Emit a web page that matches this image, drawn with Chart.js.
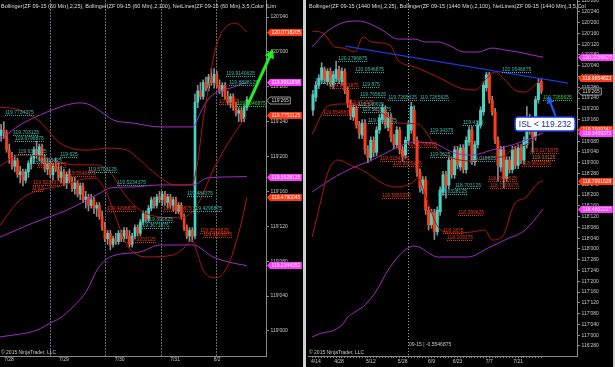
<!DOCTYPE html>
<html>
<head>
<meta charset="utf-8">
<script src="https://cdn.jsdelivr.net/npm/chart.js@4.4.0/dist/chart.umd.min.js"></script>
<style>
  html, body { margin: 0; padding: 0; background: #d0d0d0; }
  body { width: 615px; height: 367px; position: relative; overflow: hidden; }
  canvas { position: absolute; top: 0; background: #000; }
  #left { left: 0; }
  #right { left: 306px; }
</style>
</head>
<body>
<canvas id="left" width="303" height="367"></canvas>
<canvas id="right" width="307" height="367"></canvas>
<script>
// ---- 60 min bars, ZF 09-15  [open, high, low, close]
const hourlyBars = [
  [119.70,119.74,119.68,119.72],[119.72,119.75,119.69,119.71],[119.71,119.72,119.64,119.65],[119.65,119.67,119.60,119.62],
  [119.62,119.64,119.58,119.59],[119.59,119.63,119.57,119.61],[119.61,119.62,119.55,119.56],[119.56,119.59,119.53,119.57],
  [119.57,119.58,119.52,119.54],[119.54,119.58,119.53,119.57],[119.57,119.61,119.55,119.60],[119.60,119.63,119.58,119.62],
  [119.62,119.66,119.60,119.65],[119.65,119.68,119.62,119.63],[119.63,119.67,119.61,119.66],[119.66,119.67,119.60,119.61],
  [119.61,119.63,119.57,119.58],[119.58,119.62,119.56,119.60],[119.60,119.61,119.55,119.56],[119.56,119.60,119.54,119.59],
  [119.59,119.62,119.57,119.58],[119.58,119.60,119.54,119.55],[119.55,119.59,119.53,119.57],[119.57,119.58,119.52,119.53],
  [119.53,119.57,119.51,119.56],[119.56,119.58,119.53,119.54],[119.54,119.55,119.50,119.51],[119.51,119.55,119.49,119.53],
  [119.53,119.54,119.48,119.49],[119.49,119.53,119.47,119.52],[119.52,119.53,119.46,119.47],[119.47,119.50,119.44,119.48],
  [119.48,119.49,119.43,119.45],[119.45,119.49,119.44,119.47],[119.47,119.48,119.42,119.44],[119.44,119.46,119.41,119.45],
  [119.45,119.46,119.40,119.41],[119.41,119.43,119.36,119.37],[119.37,119.39,119.32,119.33],[119.33,119.36,119.31,119.35],
  [119.35,119.36,119.29,119.31],[119.31,119.34,119.30,119.33],[119.33,119.35,119.31,119.32],[119.32,119.36,119.31,119.35],
  [119.35,119.36,119.32,119.33],[119.33,119.37,119.32,119.36],[119.36,119.37,119.33,119.34],[119.34,119.36,119.30,119.31],
  [119.31,119.35,119.30,119.34],[119.34,119.38,119.33,119.37],[119.37,119.38,119.34,119.35],[119.35,119.40,119.34,119.39],
  [119.39,119.43,119.38,119.42],[119.42,119.43,119.39,119.40],[119.40,119.45,119.39,119.44],[119.44,119.48,119.43,119.47],
  [119.47,119.48,119.44,119.45],[119.45,119.49,119.44,119.48],[119.48,119.50,119.46,119.47],[119.47,119.50,119.45,119.49],
  [119.49,119.50,119.45,119.46],[119.46,119.49,119.44,119.48],[119.48,119.49,119.44,119.45],[119.45,119.48,119.43,119.47],
  [119.47,119.48,119.42,119.43],[119.43,119.46,119.42,119.45],[119.45,119.46,119.40,119.41],[119.41,119.42,119.36,119.37],
  [119.37,119.38,119.33,119.34],[119.34,119.37,119.32,119.36],[119.36,119.37,119.32,119.34],[119.34,119.85,119.33,119.82],
  [119.82,119.88,119.80,119.86],[119.86,119.89,119.83,119.84],[119.84,119.90,119.83,119.89],[119.89,119.91,119.86,119.87],
  [119.87,119.92,119.86,119.91],[119.91,119.94,119.88,119.89],[119.89,119.94,119.87,119.92],[119.92,119.93,119.87,119.88],
  [119.88,119.90,119.85,119.86],[119.86,119.89,119.84,119.88],[119.88,119.89,119.83,119.84],[119.84,119.86,119.81,119.82],
  [119.82,119.85,119.80,119.84],[119.84,119.85,119.79,119.80],[119.80,119.82,119.77,119.78],[119.78,119.80,119.75,119.79],
  [119.79,119.80,119.75,119.76],[119.76,119.81,119.75,119.80],[119.80,119.84,119.79,119.828125]
];
const hourlyDates = ['7/28', '7/29', '7/30', '7/31', '8/2'];
const hourlyDatePos = [2.9, 23, 43.4, 63.7, 79.1];
const hourlySessions = [17.9, 38.2, 58.5, 78.6];

// Bollinger(2,25) and Bollinger(2,100) on 60 min, [bar, price]
const hUpper25 = [[-0.4,119.802],[6.9,119.792],[14.3,119.749],[21.6,119.673],[31.5,119.648],[39.9,119.655],[46.1,119.648],[50.9,119.612],[57.1,119.559],[63.7,119.523],[69.9,119.526],[71.8,119.595],[74.0,119.756],[75.8,119.863],[77.6,119.971],[79.5,120.043],[82.0,120.086],[85.7,120.103],[90,120.072]];
const hMid25 = [[-0.4,119.591],[6.9,119.630],[14.3,119.627],[21.6,119.602],[28.9,119.595],[34.4,119.595],[39.9,119.569],[45.4,119.487],[50.9,119.433],[58.2,119.408],[65.5,119.405],[69.9,119.426],[72.9,119.469],[77.3,119.569],[82.0,119.655],[87.5,119.738],[90,119.775]];
const hLower25 = [[-0.4,119.379],[6.9,119.469],[14.3,119.505],[21.6,119.519],[28.9,119.541],[34.4,119.548],[38.1,119.505],[41.7,119.415],[46.1,119.308],[53.4,119.265],[63.0,119.272],[67.4,119.301],[69.9,119.326],[71.8,119.279],[74.0,119.218],[78.4,119.190],[82.8,119.229],[87.5,119.369],[90,119.479]];
const hUpper100 = [[-0.4,119.684],[6.9,119.738],[14.3,119.774],[24.1,119.810],[28.9,119.817],[32.6,119.810],[37.3,119.781],[41.0,119.756],[48.3,119.745],[58.2,119.731],[70.3,119.731],[72.9,119.781],[76.5,119.838],[85.0,119.874],[90,119.891]];
const hMid100 = [[-0.4,119.336],[11.7,119.387],[24.1,119.433],[36.2,119.494],[39.9,119.512],[48.3,119.516],[58.2,119.523],[70.3,119.523],[75.4,119.548],[85.0,119.552],[90,119.553]];
const hLower100 = [[-0.4,118.978],[13.2,119.003],[17.9,119.028],[21.6,119.046],[26.3,119.086],[31.5,119.146],[35.1,119.218],[39.9,119.265],[50.9,119.283],[58.2,119.308],[70.3,119.308],[77.6,119.265],[85.0,119.243],[90,119.234]];

// NetLines levels on 60 min: [bar, price, colour]
const hNetLines = [
  [82.4,119.9140625,'t'],[83.5,119.8828125,'t'],[79.8,119.8125,'r'],[86.4,119.8046875,'g'],
  [1.4,119.7734375,'t'],[4.4,119.703125,'t'],[5.1,119.6796875,'t'],[6.2,119.6328125,'t'],
  [21.6,119.625,'t'],[11.7,119.6015625,'t'],[31.8,119.5703125,'t'],[13.2,119.5859375,'r'],
  [24.1,119.5546875,'r'],[11.7,119.5234375,'r'],[11.3,119.5,'r'],[42.5,119.5234375,'t'],
  [68.1,119.484375,'t'],[38.8,119.4296875,'r'],[59.3,119.4296875,'r'],[70.3,119.4296875,'t'],
  [53.4,119.390625,'t'],[50.9,119.3671875,'t'],[46.1,119.3203125,'r'],[72.9,119.3515625,'r'],
  [74.0,119.3359375,'r']
];
// price markers on the 60 min axis
const hMarkers = [[120.0718205,'r'],[119.8911898,'p'],[119.7753125,'r'],[119.5528125,'p'],[119.4790045,'r'],[119.2344352,'p']];

// ---- daily bars (1440 min), ZF 09-15  [open, high, low, close]
const dailyBars = [
  [119.61,119.84,119.55,119.79],[119.76,119.94,119.71,119.90],[119.90,120.02,119.86,119.98],[119.96,120.16,119.92,120.10],
  [120.08,120.11,119.92,119.96],[119.94,120.09,119.90,120.06],[120.06,120.10,119.88,119.92],[119.90,120.06,119.86,120.02],
  [119.98,120.18,119.94,120.08],[120.08,120.12,119.92,119.96],[119.94,120.10,119.90,120.06],[120.06,120.09,119.80,119.84],
  [119.84,119.88,119.64,119.69],[119.69,119.73,119.50,119.55],[119.53,119.68,119.49,119.64],[119.64,119.67,119.40,119.44],
  [119.44,119.48,119.28,119.34],[119.32,119.50,119.28,119.46],[119.46,119.50,119.10,119.15],[119.15,119.20,119.00,119.06],
  [119.06,119.30,119.02,119.26],[119.26,119.30,119.07,119.12],[119.12,119.42,119.08,119.38],[119.38,119.56,119.34,119.52],
  [119.50,119.68,119.46,119.64],[119.61,119.66,119.40,119.44],[119.41,119.58,119.37,119.53],[119.53,119.57,119.24,119.29],
  [119.29,119.33,119.16,119.21],[119.21,119.42,119.17,119.38],[119.38,119.41,119.10,119.15],[119.15,119.19,119.02,119.07],
  [119.09,119.30,119.05,119.26],[119.26,119.48,119.22,119.44],[119.38,119.70,119.34,119.65],[119.61,119.66,119.22,119.26],
  [119.26,119.30,118.84,118.89],[118.89,118.93,118.66,118.71],[118.68,118.84,118.64,118.80],[118.80,118.84,118.40,118.45],
  [118.45,118.49,118.22,118.28],[118.28,118.46,118.24,118.42],[118.42,118.46,118.11,118.20],[118.20,118.49,118.16,118.45],
  [118.43,118.72,118.39,118.68],[118.66,118.90,118.62,118.86],[118.86,118.90,118.59,118.74],[118.74,119.07,118.70,119.03],
  [119.03,119.07,118.82,118.86],[118.86,119.19,118.82,119.15],[119.15,119.19,118.93,118.97],[118.95,119.21,118.91,119.17],
  [119.17,119.21,118.88,118.92],[118.92,119.30,118.88,119.26],[119.24,119.42,119.20,119.38],[119.38,119.42,118.98,119.03],
  [119.01,119.25,118.97,119.21],[119.21,119.48,119.17,119.44],[119.44,119.65,119.40,119.61],[119.59,119.94,119.55,119.90],
  [119.87,120.05,119.83,120.02],[120.02,120.05,119.69,119.73],[119.73,119.77,119.55,119.59],[119.59,119.63,119.22,119.26],
  [119.26,119.30,118.79,118.97],[118.95,119.19,118.90,119.15],[119.15,119.19,118.71,118.82],[118.82,119.07,118.78,119.03],
  [119.03,119.07,118.88,118.92],[118.92,119.19,118.88,119.15],[119.15,119.19,118.93,118.97],[118.97,119.21,118.93,119.17],
  [119.17,119.21,118.99,119.03],[119.03,119.30,118.99,119.26],[119.21,119.65,119.17,119.52],[119.52,119.56,119.33,119.38],
  [119.38,119.42,119.12,119.30],[119.30,119.77,119.26,119.73],[119.73,119.97,119.69,119.92],[119.94,119.98,119.80,119.828125]
];
const dailyDates = ['4/14', '4/28', '5/12', '5/28', '6/9', '6/23', '7/7', '7/21'];
const dailyDatePos = [1, 9, 20, 31, 41, 50, 61, 71];
const rolloverBar = 32.9;

const dUpper25 = [[-0.3,120.527],[3.5,120.503],[7.6,120.342],[10.4,120.330],[14.5,120.284],[17.3,120.458],[20.4,120.400],[26.6,120.365],[29.4,120.191],[35.3,120.110],[43.9,119.982],[50.9,119.866],[56.1,119.843],[60.2,119.982],[63.0,120.052],[66.4,119.959],[69.9,119.843],[73.4,119.820],[76.8,119.901],[79.6,119.985]];
const dMid25 = [[-0.3,119.333],[5.2,119.658],[10.4,119.681],[17.0,119.669],[23.9,119.576],[29.4,119.461],[36.3,119.449],[43.3,119.148],[48.1,119.055],[55.0,119.020],[61.9,119.066],[65.4,119.066],[69.9,119.182],[73.4,119.205],[77.9,119.322],[79.6,119.391]];
const dLower25 = [[-0.3,118.139],[2.4,118.510],[5.2,118.892],[8.7,119.032],[12.8,118.974],[17.0,118.916],[23.9,118.765],[28.4,118.718],[34.3,118.765],[36.3,118.823],[38.8,118.626],[43.3,118.255],[48.1,118.185],[55.0,118.197],[59.5,118.220],[61.9,118.104],[65.4,118.139],[69.9,118.533],[73.4,118.591],[77.9,118.765],[79.6,118.790]];
const dUpper100 = [[-0.3,120.342],[4.2,120.504],[10.0,120.620],[15.6,120.643],[19.0,120.620],[23.9,120.539],[29.4,120.434],[35.3,120.434],[38.8,120.400],[43.3,120.400],[46.7,120.365],[52.6,120.284],[57.1,120.284],[61.9,120.330],[66.4,120.307],[70.9,120.284],[75.8,120.249],[79.6,120.224]];
const dMid100 = [[-0.3,118.661],[4.2,118.765],[12.1,118.916],[20.4,119.032],[29.4,119.182],[34.3,119.240],[41.2,119.229],[49.1,119.113],[55.0,119.089],[61.9,119.147],[68.9,119.205],[75.8,119.287],[79.6,119.346]];
const dLower100 = [[-0.3,116.979],[3.1,117.026],[6.6,117.049],[10.0,117.119],[12.1,117.211],[14.5,117.269],[18.0,117.350],[22.1,117.524],[26.0,117.756],[31.8,117.988],[35.3,118.034],[43.3,117.907],[53.6,117.907],[60.6,118.011],[66.4,118.104],[73.4,118.220],[79.6,118.460]];
const dTrend = [[11.1,120.353],[88.2,119.924]];

const dNetLines = [
  [8.7,120.1796875,'t'],[14.5,120.0546875,'t'],[65.4,120.0546875,'t'],[0.7,119.9296875,'t'],
  [17.0,119.875,'t'],[5.9,119.8671875,'r'],[16.3,119.765625,'t'],[26.0,119.7265625,'t'],
  [37.0,119.7265625,'t'],[12.1,119.671875,'r'],[15.6,119.640625,'t'],[17.0,119.5859375,'t'],
  [3.5,119.5546875,'r'],[19.0,119.4609375,'t'],[51.9,119.4375,'t'],[40.5,119.34375,'t'],
  [32.9,119.1796875,'r'],[40.5,119.0625,'t'],[54.3,119.015625,'t'],[23.2,119.0234375,'r'],
  [27.7,118.9609375,'r'],[75.1,119.1171875,'r'],[75.8,119.03125,'o'],[72.3,118.9609375,'r'],
  [60.6,118.7890625,'r'],[61.2,118.7109375,'r'],[23.9,118.5859375,'r'],[43.3,118.6328125,'t'],
  [49.1,118.703125,'t'],[50.2,118.390625,'r'],[45.0,118.1875,'r'],[46.4,118.109375,'r'],
  [79.6,119.7265625,'g']
];
const dMarkers = [[120.2236823,'p'],[119.9854822,'r'],[119.3909341,'r'],[119.3459375,'p'],[118.7901628,'r'],[118.4602227,'p']];

// ---- styles
const FONT = '"Liberation Sans", Arial, sans-serif';
const UP = '#45d3c6';
const DOWN = '#ff3b17';
const WICK = '#8c8c8c';
const RED_BAND = '#b01414';
const PURPLE_BAND = '#a22cc2';
const NET_COLORS = { t: '#3fb9ae', r: '#e8361a', g: '#2ed42e', o: '#e07a10' };
const TAG_COLORS = { r: '#ff3a12', p: '#ff3cff' };

function fmt32(v) {
  const whole = Math.floor(v + 1e-9);
  const frac = Math.round((v - whole) * 320);
  return whole + "'" + String(frac).padStart(3, '0');
}

function priceTicks(scale) {
  const ticks = [];
  for (let k = Math.ceil(scale.min * 8); k <= Math.floor(scale.max * 8); k++) ticks.push({ value: k / 8 });
  scale.ticks = ticks;
}

function bandSet(points, color) {
  return {
    type: 'line', data: points.map(p => ({ x: p[0], y: p[1] })),
    borderColor: color, borderWidth: 1, pointRadius: 0,
    cubicInterpolationMode: 'monotone', order: 0
  };
}

function netLabel(ctx, x, y, text, color) {
  ctx.font = '5px ' + FONT;
  ctx.textAlign = 'left';
  ctx.textBaseline = 'alphabetic';
  const w = ctx.measureText(text).width;
  ctx.fillStyle = color;
  ctx.fillText(text, x, y - 1);
  ctx.strokeStyle = color;
  ctx.lineWidth = 1;
  ctx.setLineDash([1, 1]);
  ctx.beginPath();
  ctx.moveTo(x, Math.round(y) + 0.5);
  ctx.lineTo(x + w, Math.round(y) + 0.5);
  ctx.stroke();
  ctx.setLineDash([]);
}

function priceTag(ctx, x, y, text, bg, fg, border) {
  ctx.font = '5px ' + FONT;
  const w = ctx.measureText(text).width + 3;
  const h = 7;
  y = Math.round(y) + 0.5;
  ctx.beginPath();
  ctx.moveTo(x, y);
  ctx.lineTo(x + 3, y - h / 2);
  ctx.lineTo(x + 3 + w, y - h / 2);
  ctx.lineTo(x + 3 + w, y + h / 2);
  ctx.lineTo(x + 3, y + h / 2);
  ctx.closePath();
  ctx.fillStyle = bg;
  ctx.fill();
  if (border) { ctx.strokeStyle = border; ctx.lineWidth = 1; ctx.stroke(); }
  ctx.fillStyle = fg;
  ctx.textAlign = 'left';
  ctx.textBaseline = 'middle';
  ctx.fillText(text, x + 4.5, y + 0.5);
}

function arrow(ctx, x0, y0, x1, y1, color, w, head) {
  const a = Math.atan2(y1 - y0, x1 - x0);
  const bx = x1 - head * Math.cos(a), by = y1 - head * Math.sin(a);
  ctx.strokeStyle = color;
  ctx.lineWidth = w;
  ctx.lineCap = 'round';
  ctx.beginPath(); ctx.moveTo(x0, y0); ctx.lineTo(bx, by); ctx.stroke();
  ctx.fillStyle = color;
  ctx.beginPath();
  ctx.moveTo(x1, y1);
  ctx.lineTo(bx + head * 0.55 * Math.sin(a), by - head * 0.55 * Math.cos(a));
  ctx.lineTo(bx - head * 0.55 * Math.sin(a), by + head * 0.55 * Math.cos(a));
  ctx.closePath();
  ctx.fill();
}

// overlay: session lines, NetLines labels, axis markers, notes
function overlay(o) {
  return {
    id: 'overlay',
    beforeDatasetsDraw(chart) {
      const { ctx, chartArea: a, scales: { x } } = chart;
      ctx.save();
      ctx.lineWidth = 1;
      o.vlines.forEach(v => {
        const px = Math.round(x.getPixelForValue(v)) + 0.5;
        ctx.strokeStyle = o.vlineColor;
        ctx.setLineDash(o.vlineDash);
        ctx.beginPath(); ctx.moveTo(px, a.top); ctx.lineTo(px, a.bottom); ctx.stroke();
      });
      ctx.restore();
    },
    afterDatasetsDraw(chart) {
      const { ctx, scales: { x, y } } = chart;
      ctx.save();
      o.net.forEach(n => netLabel(ctx, x.getPixelForValue(n[0]), y.getPixelForValue(n[1]), String(n[1]), NET_COLORS[n[2]]));
      ctx.restore();
    },
    afterDraw(chart) {
      const { ctx, chartArea: a, scales: { x, y } } = chart;
      ctx.save();
      // title and copyright
      ctx.font = '5.5px ' + FONT;
      ctx.fillStyle = '#dcdcdc';
      ctx.textAlign = 'left';
      ctx.textBaseline = 'alphabetic';
      ctx.fillText(o.title, a.left + 1, 8);
      ctx.font = '5px ' + FONT;
      ctx.fillStyle = '#c8c8c8';
      ctx.fillText('\u00a9 2015 NinjaTrader, LLC', a.left + 1, a.bottom - 2);
      // axis markers
      o.markers.forEach(m => priceTag(ctx, a.right + 1, y.getPixelForValue(m[0]), String(m[0]), TAG_COLORS[m[1]], '#ffffff'));
      const last = o.bars[o.bars.length - 1][3];
      priceTag(ctx, a.right + 1, y.getPixelForValue(last), fmt32(last), '#000000', '#d8d8d8', '#9a9a9a');
      if (o.extra) o.extra(chart, ctx, a, x, y);
      ctx.restore();
    }
  };
}

function buildChart(id, o) {
  const bars = o.bars;
  return new Chart(document.getElementById(id), {
    type: 'bar',
    data: {
      datasets: o.bands.concat([
        {
          type: 'bar', order: 1, grouped: false, barThickness: o.body, borderWidth: 0,
          data: bars.map((b, i) => ({ x: i, y: [b[0], b[3]] })),
          backgroundColor: bars.map(b => b[3] >= b[0] ? UP : DOWN)
        },
        {
          type: 'bar', order: 2, grouped: false, barThickness: 1, borderWidth: 0,
          data: bars.map((b, i) => ({ x: i, y: [b[2], b[1]] })),
          backgroundColor: WICK
        }
      ])
    },
    options: {
      responsive: false,
      animation: false,
      devicePixelRatio: 1,
      layout: { padding: { left: o.padLeft, top: 0, right: 0, bottom: 0 }, autoPadding: false },
      plugins: { legend: { display: false }, tooltip: { enabled: false } },
      scales: {
        x: {
          type: 'linear', min: o.xMin, max: o.xMax, offset: false,
          grid: { drawOnChartArea: false, drawTicks: o.xTickMarks, tickLength: 2, color: '#8a8a8a', offset: false },
          border: { color: '#8a8a8a' },
          ticks: {
            autoSkip: false, maxRotation: 0, padding: 1, color: '#c8c8c8',
            font: { family: FONT, size: 5 },
            callback: o.xLabel
          },
          afterBuildTicks: o.xTicks,
          afterFit: s => { s.height = 11; s.paddingLeft = 0; s.paddingRight = 0; }
        },
        y: {
          type: 'linear', position: 'right', min: o.yMin, max: o.yMax,
          grid: { drawOnChartArea: false, tickLength: 3, color: '#8a8a8a' },
          border: { color: '#8a8a8a' },
          ticks: {
            autoSkip: false, padding: 1.5, color: '#c8c8c8',
            font: { family: FONT, size: 5 },
            callback: v => fmt32(v)
          },
          afterBuildTicks: priceTicks,
          afterFit: s => { s.width = o.axisW; s.paddingTop = 0; s.paddingBottom = 0; }
        }
      }
    },
    plugins: [overlay(o)]
  });
}

// left: 60 min
buildChart('left', {
  bars: hourlyBars,
  body: 2,
  padLeft: 0,
  axisW: 37,
  xMin: -0.4, xMax: 97.0,
  yMin: 118.910, yMax: 120.186,
  xTickMarks: false,
  xTicks: s => { s.ticks = hourlyDatePos.map(v => ({ value: v })); },
  xLabel: (v, i) => hourlyDates[i],
  bands: [
    bandSet(hUpper25, RED_BAND), bandSet(hMid25, RED_BAND), bandSet(hLower25, RED_BAND),
    bandSet(hUpper100, PURPLE_BAND), bandSet(hMid100, PURPLE_BAND), bandSet(hLower100, PURPLE_BAND)
  ],
  vlines: hourlySessions,
  vlineColor: 'rgba(130,140,160,0.75)',
  vlineDash: [2, 1],
  net: hNetLines,
  markers: hMarkers,
  title: 'Bollinger(ZF 09-15 (60 Min),2,25), Bollinger(ZF 09-15 (60 Min),2,100), NetLines(ZF 09-15 (60 Min),3,5,Color [Lim',
  extra: (chart, ctx, a, x, y) => {
    arrow(ctx, x.getPixelForValue(90.3), y.getPixelForValue(119.81),
      x.getPixelForValue(99.6), y.getPixelForValue(120.01), '#22ee22', 3, 9);
  }
});

// right: daily
buildChart('right', {
  bars: dailyBars,
  body: 2.4,
  padLeft: 2,
  axisW: 36,
  xMin: -1.73, xMax: 91.35,
  yMin: 116.759, yMax: 120.887,
  xTickMarks: true,
  xTicks: s => { s.ticks = dailyBars.map((b, i) => ({ value: i })); },
  xLabel: v => { const k = dailyDatePos.indexOf(v); return k >= 0 ? dailyDates[k] : ''; },
  bands: [
    {
      type: 'line', data: dTrend.map(p => ({ x: p[0], y: p[1] })),
      borderColor: '#2233dd', borderWidth: 1.3, pointRadius: 0, order: 0
    },
    bandSet(dUpper25, RED_BAND), bandSet(dMid25, RED_BAND), bandSet(dLower25, RED_BAND),
    bandSet(dUpper100, PURPLE_BAND), bandSet(dMid100, PURPLE_BAND), bandSet(dLower100, PURPLE_BAND)
  ],
  vlines: [rolloverBar],
  vlineColor: 'rgba(200,200,200,0.8)',
  vlineDash: [1, 2],
  net: dNetLines,
  markers: dMarkers,
  title: 'Bollinger(ZF 09-15 (1440 Min),2,25), Bollinger(ZF 09-15 (1440 Min),2,100), NetLines(ZF 09-15 (1440 Min),3,5,Col',
  extra: (chart, ctx, a, x, y) => {
    // rollover note
    ctx.font = '5px ' + FONT;
    ctx.fillStyle = '#c8c8c8';
    ctx.textAlign = 'left';
    ctx.textBaseline = 'alphabetic';
    ctx.fillText('09-15 | -0.5546875', x.getPixelForValue(rolloverBar) + 1, a.bottom - 10);
    // arrow and stop note
    arrow(ctx, x.getPixelForValue(84.4), y.getPixelForValue(119.50),
      x.getPixelForValue(81.3), y.getPixelForValue(119.77), '#1a5cff', 2, 7);
    const cx = x.getPixelForValue(80.3), cy = y.getPixelForValue(119.449);
    const bw = 60, bh = 14;
    ctx.beginPath();
    ctx.roundRect(cx - bw / 2, cy - bh / 2, bw, bh, 3);
    ctx.fillStyle = '#ffffff';
    ctx.fill();
    ctx.strokeStyle = '#1638e8';
    ctx.lineWidth = 1.5;
    ctx.stroke();
    ctx.font = '8.5px ' + FONT;
    ctx.fillStyle = '#1c2c9c';
    ctx.textAlign = 'center';
    ctx.textBaseline = 'middle';
    ctx.fillText('ISL < 119.232', cx, cy + 0.5);
  }
});
</script>
</body>
</html>
